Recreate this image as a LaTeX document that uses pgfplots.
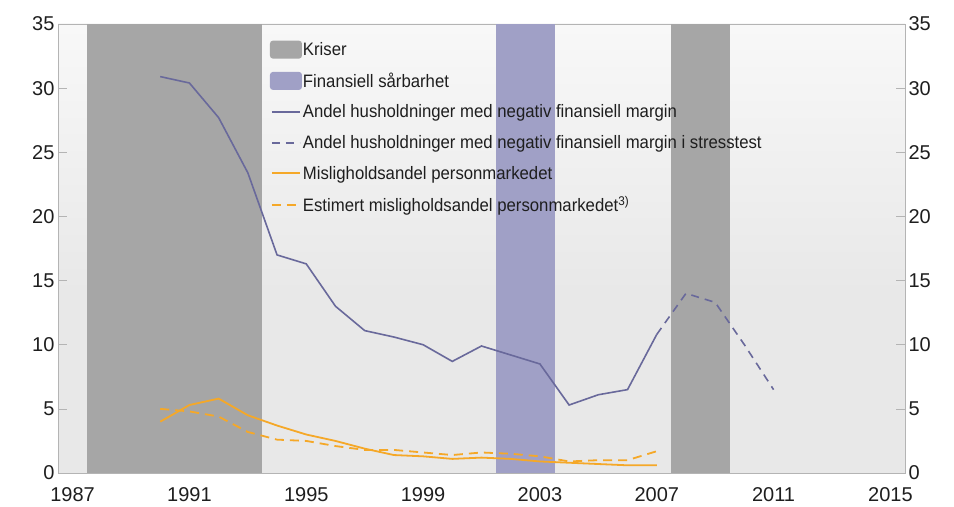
\documentclass[border=0pt]{standalone}
\usepackage{fontspec}
\setmainfont{Liberation Sans}
\newfontfamily\legfont[FakeStretch=0.93]{Liberation Sans}
\usepackage{pgfplots}
\pgfplotsset{compat=1.18}

\definecolor{bandgray}{RGB}{166,166,166}
\definecolor{bandblue}{RGB}{160,160,198}
\definecolor{lineblue}{RGB}{105,105,155}
\definecolor{lineorange}{RGB}{245,168,40}
\definecolor{axisgray}{RGB}{180,180,180}
\definecolor{bggray}{RGB}{232,232,232}
\definecolor{txt}{RGB}{30,30,30}

\pgfdeclareverticalshading{bgshade}{100bp}{color(0bp)=(bggray); color(45bp)=(bggray); color(88bp)=(white); color(100bp)=(white)}

\pgfplotsset{
  common/.style={
    scale only axis, width=847pt, height=449pt,
    xmin=1986.5, xmax=2015.5, ymin=0, ymax=35,
    ytick={0,5,...,35},
    tick align=inside,
    axis line style={axisgray},
    major tick length=9pt,
    ytick style={axisgray, line width=0.6pt},
    ticklabel style={font=\fontsize{20}{24}\selectfont, text=txt},
    /pgf/number format/assume math mode=true,
  },
  band/.style={draw=none, fill=#1, area legend,
    legend image code/.code={\fill[##1, rounded corners=3pt] (0pt,-9pt) rectangle (32pt,9pt);}},
  ln/.style={line width=1.6pt, color=#1,
    legend image code/.code={\draw[##1] (2pt,0pt) -- (30pt,0pt);}},
}

\begin{document}
\begin{tikzpicture}
\begin{axis}[common,
  xtick={1987,1991,...,2015},
  xtick style={draw=none},
  x tick label style={/pgf/number format/1000 sep={}, yshift=-11pt},
  ytick pos=left,
  axis background/.style={shading=bgshade},
  legend style={at={(0.25,0.964)}, anchor=north west, draw=none, fill=none,
    font=\legfont\fontsize{18}{21}\selectfont, text=txt, cells={anchor=west},
    row sep=12pt, inner sep=0pt, nodes={inner xsep=1pt}},
]
\addplot[band=bandgray] coordinates {(1987.5,35) (1993.5,35)} \closedcycle;
\addlegendentry{Kriser}
\addplot[band=bandblue] coordinates {(2001.5,35) (2003.5,35)} \closedcycle;
\addlegendentry{Finansiell sårbarhet}
\addplot[band=bandgray, forget plot] coordinates {(2007.5,35) (2009.5,35)} \closedcycle;

\addplot[ln=lineblue] coordinates {
 (1990,30.9) (1991,30.4) (1992,27.7) (1993,23.4) (1994,17.0) (1995,16.3)
 (1996,13.0) (1997,11.1) (1998,10.6) (1999,10.0) (2000,8.7) (2001,9.9)
 (2002,9.2) (2003,8.5) (2004,5.3) (2005,6.1) (2006,6.5) (2007,10.8)};
\addlegendentry{Andel husholdninger med negativ finansiell margin}
\addplot[ln=lineblue, dash pattern=on 8pt off 6pt] coordinates {
 (2007,10.8) (2008,14.0) (2009,13.3) (2010,10.0) (2011,6.5)};
\addlegendentry{Andel husholdninger med negativ finansiell margin i stresstest}
\addplot[ln=lineorange, line width=1.8pt] coordinates {
 (1990,4.0) (1991,5.3) (1992,5.8) (1993,4.5) (1994,3.7) (1995,3.0)
 (1996,2.5) (1997,1.9) (1998,1.4) (1999,1.3) (2000,1.1) (2001,1.2)
 (2002,1.1) (2003,0.9) (2004,0.8) (2005,0.7) (2006,0.6) (2007,0.6)};
\addlegendentry{Misligholdsandel personmarkedet}
\addplot[ln=lineorange, line width=1.8pt, dash pattern=on 9pt off 6pt] coordinates {
 (1990,5.0) (1991,4.8) (1992,4.4) (1993,3.2) (1994,2.6) (1995,2.5)
 (1996,2.1) (1997,1.8) (1998,1.8) (1999,1.6) (2000,1.4) (2001,1.6)
 (2002,1.5) (2003,1.3) (2004,0.9) (2005,1.0) (2006,1.0) (2007,1.7)};
\addlegendentry{Estimert misligholdsandel personmarkedet\textsuperscript{3)}}
\end{axis}
\begin{axis}[common,
  axis x line=none, axis y line*=right,
]
\addplot[draw=none] coordinates {(2000,0)};
\end{axis}
\path (current axis.south west) ++(-58pt,-33pt) coordinate (bl);
\path (current axis.north east) ++(49pt,24pt) coordinate (tr);
\path (bl) rectangle (tr);
\end{tikzpicture}
\end{document}
